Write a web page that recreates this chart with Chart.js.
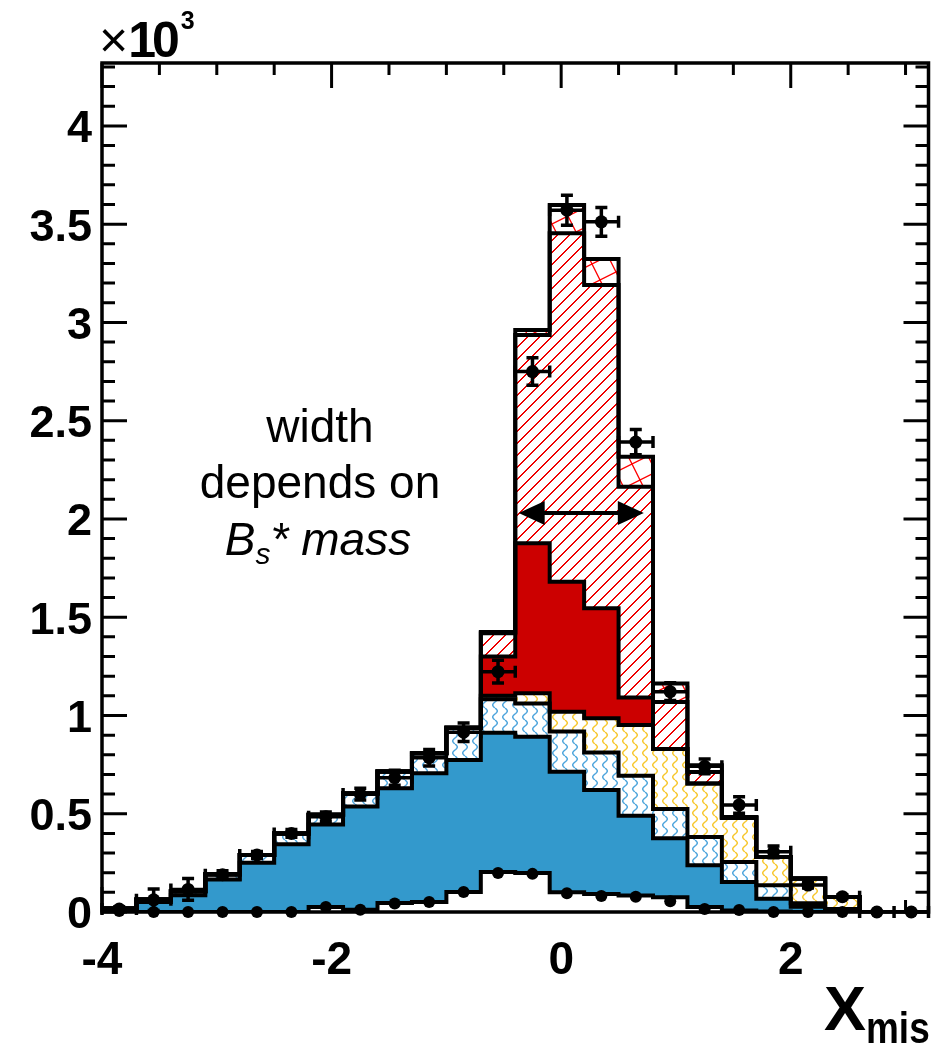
<!DOCTYPE html>
<html>
<head>
<meta charset="utf-8">
<script src="https://cdn.jsdelivr.net/npm/chart.js@4/dist/chart.umd.min.js"></script>
<style>
html,body{margin:0;padding:0;background:#fff;overflow:hidden;}
#wrap{position:relative;width:935px;height:1050px;}
#c{position:absolute;left:0;top:0;}
.t{position:absolute;white-space:nowrap;font-family:"Liberation Sans",Arial,Helvetica,sans-serif;color:#000;line-height:1;z-index:2;}
.sub{line-height:0;}
.cond{display:inline-block;transform-origin:0 100%;}
</style>
</head>
<body>
<div id="wrap">
<canvas id="c" width="935" height="1050"></canvas>
<div class="t" style="left:99px;top:15px;font-size:50px;"><span style="font-size:50px;">×</span><b style="letter-spacing:-4px;">10</b><b style="font-size:25px;vertical-align:28px;line-height:0;margin-left:5px;">3</b></div>
<div class="t" style="left:120px;width:400px;top:403px;text-align:center;font-size:46px;">width</div>
<div class="t" style="left:120px;width:400px;top:459px;text-align:center;font-size:46px;">depends on</div>
<div class="t" style="left:118px;width:400px;top:516px;text-align:center;font-size:46px;"><i>B<span class="sub" style="font-size:30px;vertical-align:-9px;">s</span>* mass</i></div>
<div class="t" style="left:824px;top:977px;font-size:63px;font-weight:bold;">X<span class="sub" style="font-size:44px;vertical-align:-13px;"><span class="cond" style="transform:scaleX(0.84);">mis</span></span></div>
</div>
<script>
// ---------------- data ----------------
const binCenters = [-3.85,-3.55,-3.25,-2.95,-2.65,-2.35,-2.05,-1.75,-1.45,-1.15,-0.85,-0.55,
                    -0.25,0.05,0.35,0.65,0.95,1.25,1.55,1.85,2.15,2.45,2.75,3.05];
const binWidth = 0.3;

// stacked components, bottom to top (events per bin)
const bkgWhite      = [5,0,0,0,0,0,25,12,46,51,102,204,199,100,92,84,75,25,8,3,0,0,0,0];
const bkgBlue       = [10,51,85,165,250,345,420,525,584,655,671,708,693,614,529,406,300,213,145,65,27,8,0,0];
const bkgBlueWavy   = [3,12,20,27,40,55,50,66,85,102,164,170,169,204,191,203,149,144,102,68,17,7,0,0];
const bkgYellowWavy = [0,0,0,0,0,0,0,0,0,0,0,18,52,101,174,259,306,272,223,144,127,61,0,0];
const sigRed        = [0,0,0,0,0,0,0,0,0,0,0,200,763,662,559,140,0,0,0,0,0,0,0,0];
const sigHatched    = [0,0,0,0,0,0,0,0,0,0,0,118,1060,1773,1646,1072,238,59,6,0,0,0,0,0];
const sigCross      = [0,0,0,0,0,0,0,0,0,0,0,7,26,144,132,153,95,34,0,0,0,0,0,0];

// data points with errors
const dataValues = [15,62,115,190,290,400,485,600,683,785,915,1223,2750,3571,3512,2391,1121,741,545,306,137,78,0,0];
const dataErrors = [12,55,55,20,18,20,24,30,38,42,47,58,70,76,73,64,45,38,42,30,15,10,0,0];
// dots drawn on the lowest component
const lowDots    = [5,0,0,0,0,0,25,12,43,51,102,199,194,96,81,78,55,15,10,0,0,0,0,0];

// axes
const xTickValues = [-4,-2,0,2];
const xTickLabels = ['-4','-2','0','2'];
const yTickValues = [0,500,1000,1500,2000,2500,3000,3500,4000];
const yTickLabels = ['0','0.5','1','1.5','2','2.5','3','3.5','4'];
const xMin = -4, xMax = 3.2, yMin = 0, yMax = 4320;
const xMinorStep = 0.5, xMajorEvery = 4;
const yMinorStep = 100, yMajorEvery = 5;

// arrow annotation (data coordinates)
const arrowFromX = -0.37, arrowToX = 0.72, arrowY = 2030;

// ---------------- patterns ----------------
const mainCtx = document.getElementById('c').getContext('2d');
function tile(w,h){const c=document.createElement('canvas');c.width=w;c.height=h;const g=c.getContext('2d');g.fillStyle='#fff';g.fillRect(0,0,w,h);return [c,g];}
function hatchPattern(){
  const n=12; const [c,g]=tile(n,n);
  g.fillStyle='rgb(238,0,0)';
  for(let i=0;i<n;i++){ g.fillRect(i, n-1-i, 2, 1); }
  g.fillRect(0, 0, 1, 1);
  return mainCtx.createPattern(c,'repeat');
}
function crossPattern(){
  const [c,g]=tile(40,40);
  g.strokeStyle='#ff0000';g.lineWidth=1.3;g.beginPath();
  [0,20,40,60].forEach(b=>{g.moveTo(-2,b+1);g.lineTo(42,b-21);});
  [-80,-40,0,40].forEach(b=>{g.moveTo(-5,2*-5+b);g.lineTo(45,2*45+b);});
  g.stroke();return mainCtx.createPattern(c,'repeat');
}
function wavyPattern(color){
  const [c,g]=tile(10,12);
  g.strokeStyle=color;g.lineWidth=1.4;g.beginPath();
  for(let k=0;k<=24;k++){const yy=k*0.5;const xx=5+2.3*Math.sin(2*Math.PI*yy/12);if(k===0)g.moveTo(xx,yy);else g.lineTo(xx,yy);}
  g.stroke();return mainCtx.createPattern(c,'repeat');
}

// ---------------- helpers ----------------
function stepData(vals){
  const pts = vals.map((v,i)=>({x: binCenters[i]-binWidth/2, y: v}));
  pts.push({x: binCenters[vals.length-1]+binWidth/2, y: vals[vals.length-1]});
  return pts;
}
function histDS(vals, bg, fill){
  return {type:'line', data: stepData(vals), stack:'mc', stepped:'before', fill: fill,
          backgroundColor: bg, borderColor:'#000', borderWidth:4, pointRadius:0,
          borderJoinStyle:'miter', borderCapStyle:'square', order:0};
}

const FONT = '"Liberation Sans", Arial, Helvetica, sans-serif';

const rootStyle = {
  id:'rootStyle',
  beforeDraw(chart){
    const {ctx, chartArea:{left,right,top,bottom}, scales:{x,y}} = chart;
    ctx.save();ctx.strokeStyle='#000';ctx.lineWidth=3;ctx.beginPath();
    const ny = Math.round((yMax-yMin)/yMinorStep);
    for(let k=0;k<=ny;k++){
      const v=yMin+k*yMinorStep; if(v>yMax) break;
      const py=y.getPixelForValue(v); const L=(k%yMajorEvery===0)?25:13;
      ctx.moveTo(left,py);ctx.lineTo(left+L,py);ctx.moveTo(right,py);ctx.lineTo(right-L,py);
    }
    const nx = Math.round((xMax-xMin)/xMinorStep);
    for(let k=0;k<=nx;k++){
      const v=xMin+k*xMinorStep; if(v>xMax+1e-9) break;
      const px=x.getPixelForValue(v); const L=(k%xMajorEvery===0)?25:12;
      ctx.moveTo(px,bottom);ctx.lineTo(px,bottom-L);ctx.moveTo(px,top);ctx.lineTo(px,top+L);
    }
    ctx.stroke();ctx.restore();
  },
  afterDatasetsDraw(chart){
    const {ctx, chartArea:{left,right,top,bottom}, scales:{x,y}} = chart;
    ctx.save();
    // error bars
    ctx.strokeStyle='#000';ctx.lineWidth=3.5;ctx.lineCap='butt';ctx.beginPath();
    const cap=6;
    binCenters.forEach((c,i)=>{
      const v=dataValues[i], e=dataErrors[i];
      const py=y.getPixelForValue(v);
      const xl=x.getPixelForValue(c-binWidth/2), xr=x.getPixelForValue(c+binWidth/2), px=x.getPixelForValue(c);
      ctx.moveTo(xl,py);ctx.lineTo(xr,py);
      ctx.moveTo(xl,py-cap);ctx.lineTo(xl,py+cap);ctx.moveTo(xr,py-cap);ctx.lineTo(xr,py+cap);
      if(e>0){
        const yt=y.getPixelForValue(v+e), yb=y.getPixelForValue(v-e);
        ctx.moveTo(px,yt);ctx.lineTo(px,yb);
        ctx.moveTo(px-cap,yt);ctx.lineTo(px+cap,yt);ctx.moveTo(px-cap,yb);ctx.lineTo(px+cap,yb);
      }
    });
    ctx.stroke();
    // arrow
    const ax1=x.getPixelForValue(arrowFromX), ax2=x.getPixelForValue(arrowToX), ay=y.getPixelForValue(arrowY);
    const hl=26, hw=12;
    ctx.lineWidth=4;ctx.beginPath();ctx.moveTo(ax1+hl-2,ay);ctx.lineTo(ax2-hl+2,ay);ctx.stroke();
    ctx.fillStyle='#000';ctx.beginPath();
    ctx.moveTo(ax1,ay);ctx.lineTo(ax1+hl,ay-hw);ctx.lineTo(ax1+hl,ay+hw);ctx.closePath();
    ctx.moveTo(ax2,ay);ctx.lineTo(ax2-hl,ay-hw);ctx.lineTo(ax2-hl,ay+hw);ctx.closePath();
    ctx.fill();
    // frame
    ctx.lineWidth=3.5;ctx.strokeRect(left,top,right-left,bottom-top);
    ctx.restore();
  }
};

new Chart(mainCtx, {
  type:'line',
  data:{
    datasets:[
      histDS(bkgWhite, '#ffffff', 'origin'),
      histDS(bkgBlue, '#3399cc', '-1'),
      histDS(bkgBlueWavy, wavyPattern('#4aa3dc'), '-1'),
      histDS(bkgYellowWavy, wavyPattern('#f7c629'), '-1'),
      histDS(sigRed, '#cc0000', '-1'),
      histDS(sigHatched, hatchPattern(), '-1'),
      histDS(sigCross, crossPattern(), '-1'),
      {type:'line', data: binCenters.map((c,i)=>({x:c,y:dataValues[i]})), stack:'data', showLine:false,
       pointRadius:6.5, pointBackgroundColor:'#000', pointBorderWidth:0, clip:false, order:-2},
      {type:'line', data: binCenters.map((c,i)=>({x:c,y:lowDots[i]})), stack:'dots', showLine:false,
       pointRadius:6, pointBackgroundColor:'#000', pointBorderWidth:0, clip:false, order:-1}
    ]
  },
  options:{
    responsive:false, animation:false, devicePixelRatio:1,
    layout:{padding:{top:63,right:3,left:0,bottom:0}},
    plugins:{legend:{display:false}, tooltip:{enabled:false}, filler:{drawTime:'beforeDatasetsDraw', propagate:false}},
    scales:{
      x:{type:'linear', min:xMin, max:xMax,
         grid:{display:false, drawTicks:false}, border:{display:false},
         afterBuildTicks:(s)=>{s.ticks = xTickValues.map(v=>({value:v}));},
         ticks:{padding:22, color:'#000', maxRotation:0, autoSkip:false,
                font:{family:FONT, size:46, weight:'bold'},
                callback:(v,i)=>xTickLabels[i]},
         afterFit:(s)=>{s.height=138;}},
      y:{type:'linear', min:yMin, max:yMax, stacked:true,
         grid:{display:false, drawTicks:false}, border:{display:false},
         afterBuildTicks:(s)=>{s.ticks = yTickValues.map(v=>({value:v}));},
         ticks:{padding:10, color:'#000', labelOffset:4,
                font:{family:FONT, size:45, weight:'bold'},
                callback:(v,i)=>yTickLabels[i]},
         afterFit:(s)=>{s.width=102;}}
    }
  },
  plugins:[rootStyle]
});
</script>
</body>
</html>
